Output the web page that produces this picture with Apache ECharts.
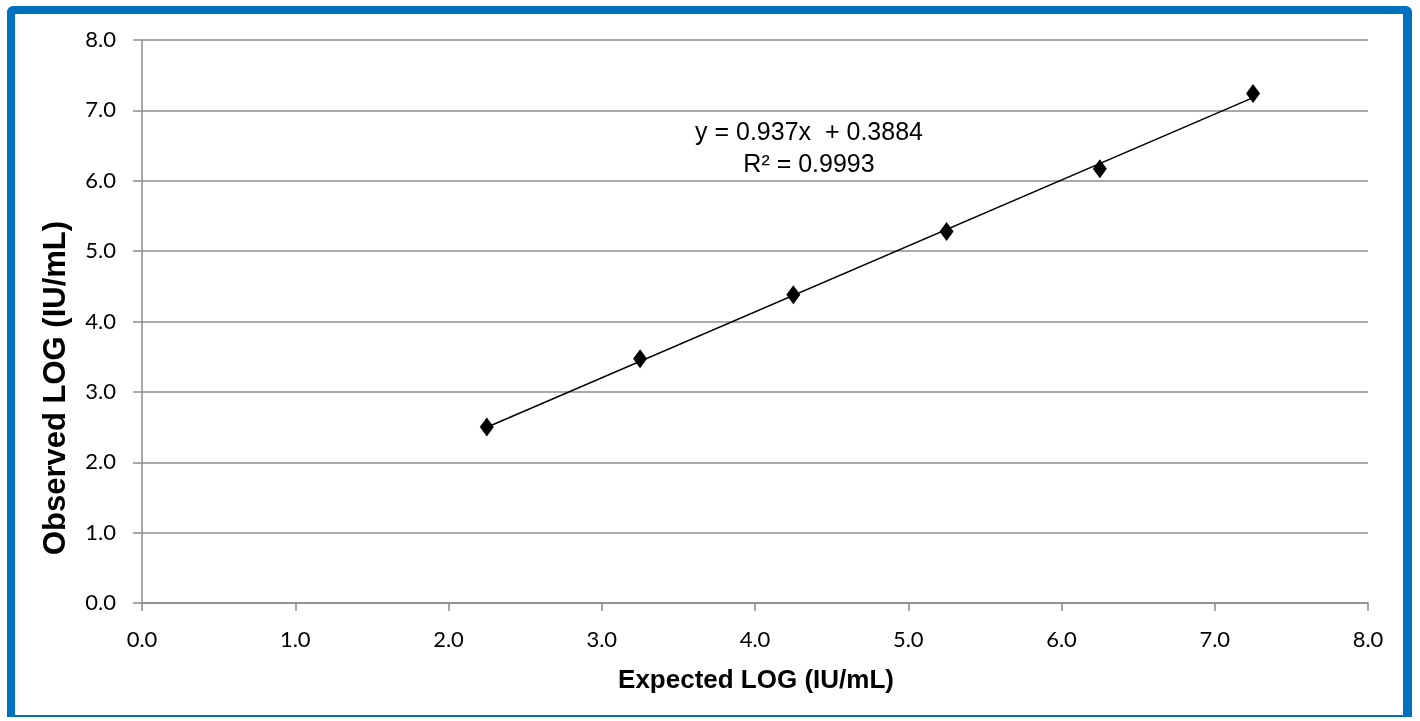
<!DOCTYPE html>
<html>
<head>
<meta charset="utf-8">
<title>Observed vs Expected LOG</title>
<script src="https://cdn.jsdelivr.net/npm/echarts@6/dist/echarts.min.js"></script>
<style>
    html, body { margin: 0; padding: 0; background: #fff; }
    .frame {
        position: absolute;
        left: 7px; top: 6px; width: 1405px; height: 711px;
        border-style: solid;
        border-color: #0070c0;
        border-width: 8px 9px 2px 8px;
        border-radius: 6px 6px 0 0;
        box-sizing: border-box;
    }
    #chart { position: absolute; left: 0; top: 0; width: 1420px; height: 721px; }
</style>
</head>
<body>
<div class="frame"></div>
<div id="chart"></div>
<script>
    // data
    var expectedLog = [2.25, 3.25, 4.25, 5.25, 6.25, 7.25];
    var observedLog = [2.50, 3.47, 4.38, 5.28, 6.17, 7.24];
    // linear fit y = 0.937x + 0.3884, end points
    var trendX = [2.25, 7.25];
    var trendY = [2.497, 7.182];
    var axisTicks = [0, 1, 2, 3, 4, 5, 6, 7, 8];
    var fitLabel = ['y = 0.937x  + 0.3884', 'R² = 0.9993'];
    var xTitle = 'Expected LOG (IU/mL)';
    var yTitle = 'Observed LOG (IU/mL)';

    var chart = echarts.init(document.getElementById('chart'));
    var tickFont = { fontFamily: 'Lato', fontSize: 22, color: '#000' };
    var gray = '#8c8c8c';
    var option = {
        animation: false,
        grid: { left: 142, right: 52, top: 40, bottom: 118 },
        xAxis: {
            type: 'value',
            min: axisTicks[0],
            max: axisTicks[axisTicks.length - 1],
            interval: 1,
            axisLine: { lineStyle: { color: gray, width: 1.5 } },
            axisTick: { show: true, length: 8, lineStyle: { color: gray, width: 1.5 } },
            axisLabel: Object.assign({ margin: 26, formatter: function (v) { return v.toFixed(1); } }, tickFont),
            splitLine: { show: false }
        },
        yAxis: {
            type: 'value',
            min: axisTicks[0],
            max: axisTicks[axisTicks.length - 1],
            interval: 1,
            axisLine: { show: true, lineStyle: { color: gray, width: 1.5 } },
            axisTick: { show: true, length: 9, lineStyle: { color: gray, width: 1.5 } },
            axisLabel: Object.assign({ margin: 26, formatter: function (v) { return v.toFixed(1); } }, tickFont),
            splitLine: { show: true, lineStyle: { color: gray, width: 1.5 } }
        },
        series: [
            {
                name: 'trend',
                type: 'line',
                data: trendX.map(function (x, i) { return [x, trendY[i]]; }),
                symbol: 'none',
                lineStyle: { color: '#000', width: 1.5 },
                z: 2
            },
            {
                name: 'observed',
                type: 'scatter',
                data: expectedLog.map(function (x, i) { return [x, observedLog[i]]; }),
                symbol: 'diamond',
                symbolSize: [14, 19],
                itemStyle: { color: '#000', opacity: 1 },
                z: 3
            }
        ],
        graphic: [
            {
                type: 'text',
                x: 809, y: 149,
                style: {
                    text: fitLabel.join('\n'),
                    font: '25px "Liberation Sans"',
                    fill: '#000',
                    align: 'center',
                    verticalAlign: 'middle',
                    lineHeight: 32
                }
            },
            {
                type: 'text',
                x: 756, y: 681,
                style: {
                    text: xTitle,
                    font: 'bold 26px "Liberation Sans"',
                    fill: '#000',
                    align: 'center',
                    verticalAlign: 'middle'
                }
            },
            {
                type: 'text',
                x: 56, y: 388,
                rotation: Math.PI / 2,
                style: {
                    text: yTitle,
                    font: 'bold 31px "Liberation Sans"',
                    fill: '#000',
                    align: 'center',
                    verticalAlign: 'middle'
                }
            }
        ]
    };
    chart.setOption(option);
</script>
</body>
</html>
